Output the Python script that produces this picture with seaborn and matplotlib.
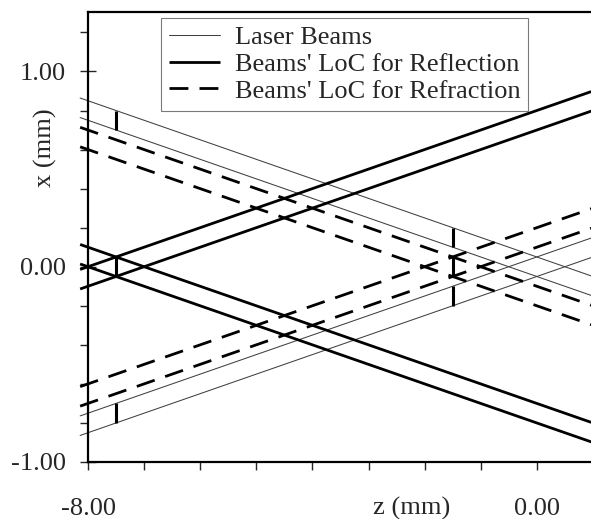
import numpy as np
import pandas as pd
import matplotlib
matplotlib.use("Agg")
import matplotlib.pyplot as plt
from matplotlib.lines import Line2D
from matplotlib.ticker import FixedLocator, NullFormatter, FixedFormatter
import seaborn as sns

# Beam edges and loci, given as x (mm) at the two ends of the z range (mm)
z_ends = [-8.14, 0.97]

laser_beam_upper_outer = [0.864, -0.047]
laser_beam_upper_inner = [0.764, -0.147]
laser_beam_lower_inner = [-0.764, 0.147]
laser_beam_lower_outer = [-0.864, 0.047]

reflection_rising_upper = [-0.014, 0.897]
reflection_rising_lower = [-0.114, 0.797]
reflection_falling_upper = [0.114, -0.797]
reflection_falling_lower = [0.014, -0.897]

refraction_falling_upper = [0.714, -0.197]
refraction_falling_lower = [0.614, -0.297]
refraction_rising_upper = [-0.614, 0.297]
refraction_rising_lower = [-0.714, 0.197]

# Width markers: position z and the x interval they span
marker_z = [-7.5, -7.5, -7.5, -1.5, -1.5, -1.5]
marker_x_low = [0.70, -0.80, -0.05, 0.10, -0.20, -0.05]
marker_x_high = [0.80, -0.70, 0.05, 0.20, -0.10, 0.05]

legend_labels = ["Laser Beams", "Beams' LoC for Reflection",
                 "Beams' LoC for Refraction"]

groups = {
    "laser": [laser_beam_upper_outer, laser_beam_upper_inner,
              laser_beam_lower_inner, laser_beam_lower_outer],
    "reflection": [reflection_rising_upper, reflection_rising_lower,
                   reflection_falling_upper, reflection_falling_lower],
    "refraction": [refraction_falling_upper, refraction_falling_lower,
                   refraction_rising_upper, refraction_rising_lower],
}

rows = []
for kind, lines in groups.items():
    for i, xs in enumerate(lines):
        for z, x in zip(z_ends, xs):
            rows.append({"kind": kind, "line": f"{kind}{i}", "z": z, "x": x})
df = pd.DataFrame(rows)

sns.set_style("white")
plt.rcParams["font.family"] = ["Liberation Serif", "DejaVu Serif"]

fig = plt.figure(figsize=(5.91, 5.19), dpi=100)
ax = fig.add_axes([88 / 591, 57 / 519, 503 / 591, 450 / 519])

thin_kw = dict(color="0.25", lw=0.75)
solid_kw = dict(color="black", lw=2.0, solid_capstyle="butt")
dash_kw = dict(color="black", lw=2.0, linestyle=(0, (6.8, 4.0)),
               dash_capstyle="butt")
styles = {"laser": thin_kw, "reflection": solid_kw, "refraction": dash_kw}

for kind, kw in styles.items():
    sub = df[df["kind"] == kind]
    sns.lineplot(data=sub, x="z", y="x", units="line", estimator=None,
                 sort=False, legend=False, ax=ax, clip_on=False, **kw)

ax.vlines(marker_z, marker_x_low, marker_x_high, colors="black",
          linewidth=2.2, clip_on=False)

ax.set_xlim(-8.0, 0.966)
ax.set_ylim(-1.0, 1.3045)

# axes frame
for side in ["left", "bottom", "top"]:
    ax.spines[side].set_linewidth(1.6)
    ax.spines[side].set_color("black")
ax.spines["right"].set_visible(False)

# ticks
ax.yaxis.set_major_locator(FixedLocator([-1.0, 0.0, 1.0]))
ax.yaxis.set_major_formatter(FixedFormatter(["-1.00", "0.00", "1.00"]))
ax.yaxis.set_minor_locator(FixedLocator([-0.8, -0.6, -0.4, -0.2, 0.2, 0.4,
                                         0.6, 0.8, 1.2]))
ax.xaxis.set_major_locator(FixedLocator([-8.0, 0.0]))
ax.xaxis.set_major_formatter(FixedFormatter(["-8.00", "0.00"]))
ax.xaxis.set_minor_locator(FixedLocator([-7, -6, -5, -4, -3, -2, -1]))
ax.xaxis.set_minor_formatter(NullFormatter())

ax.tick_params(axis="y", which="major", direction="inout", length=11.5,
               width=1.0, pad=10, labelsize=19, left=True)
ax.tick_params(axis="y", which="minor", direction="out", length=5.8,
               width=1.0, left=True)
ax.tick_params(axis="x", which="major", direction="out", length=5.8,
               width=1.0, pad=20, labelsize=19, bottom=True)
ax.tick_params(axis="x", which="minor", direction="out", length=5.8,
               width=1.0, bottom=True)
ax.set_xlabel("")
ax.set_ylabel("")

ax.text(0.644, -0.116, "z (mm)", transform=ax.transAxes, ha="center",
        va="baseline", fontsize=19)
ax.text(-0.0855, 0.698, "x (mm)", transform=ax.transAxes, ha="center",
        va="center", rotation=90, fontsize=19)

handles = [Line2D([], [], **thin_kw), Line2D([], [], **solid_kw),
           Line2D([], [], **dash_kw)]
leg = ax.legend(handles, legend_labels, loc="upper left",
                bbox_to_anchor=(161 / 591, 1 - 18 / 519),
                bbox_transform=fig.transFigure, borderaxespad=0,
                fontsize=19, frameon=True, fancybox=False,
                borderpad=0.3, handlelength=1.95, handletextpad=0.55,
                labelspacing=0.12)
leg.get_frame().set_edgecolor("0.35")
leg.get_frame().set_linewidth(0.8)

fig.savefig("out.png", dpi=100)
